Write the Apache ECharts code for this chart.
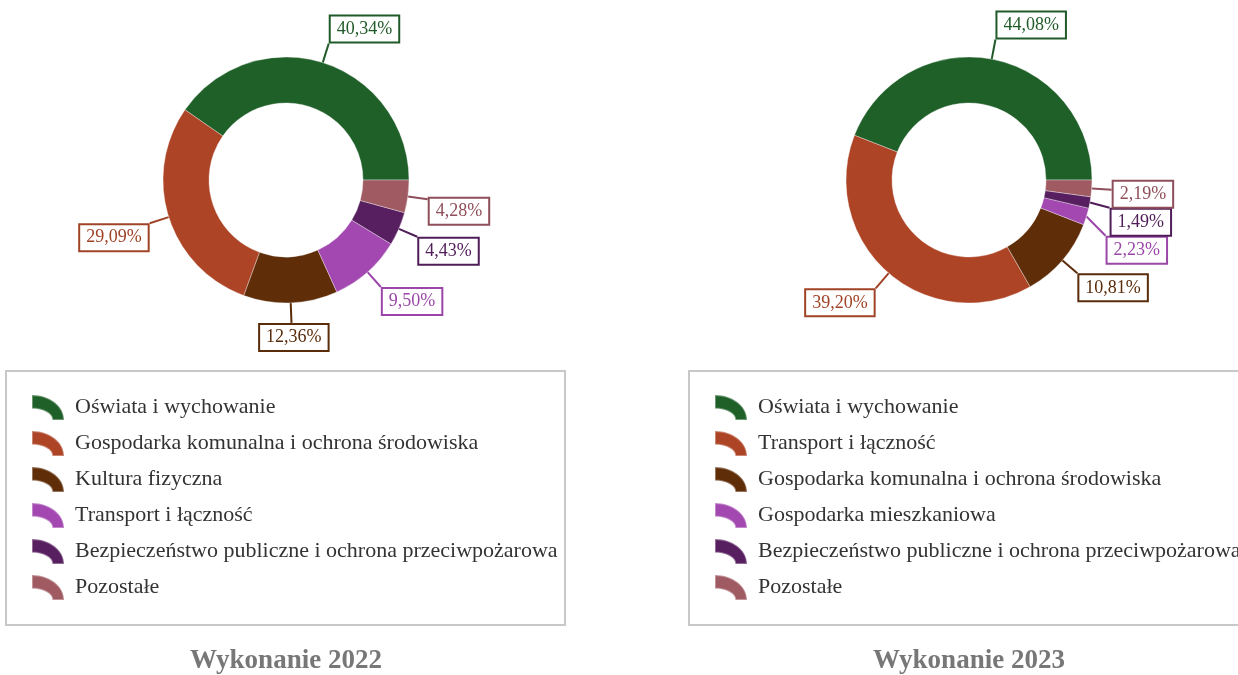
<!DOCTYPE html>
<html>
<head>
<meta charset="utf-8">
<script src="https://cdn.jsdelivr.net/npm/echarts@6/dist/echarts.min.js"></script>
<style>
  html, body { margin: 0; padding: 0; background: #fff; overflow: hidden; }
  #wrap { position: relative; width: 1238px; height: 675px; overflow: hidden; }
  .panel { position: absolute; top: 0; width: 683px; height: 675px; }
</style>
</head>
<body>
<div id="wrap">
  <div id="c2022" class="panel" style="left:0"></div>
  <div id="c2023" class="panel" style="left:683px"></div>
</div>
<script>
// Budget structure by section (% of total), two years
const categories2022 = [
  'Oświata i wychowanie',
  'Gospodarka komunalna i ochrona środowiska',
  'Kultura fizyczna',
  'Transport i łączność',
  'Bezpieczeństwo publiczne i ochrona przeciwpożarowa',
  'Pozostałe'
];
const values2022 = [40.34, 29.09, 12.36, 9.50, 4.43, 4.28];

const categories2023 = [
  'Oświata i wychowanie',
  'Transport i łączność',
  'Gospodarka komunalna i ochrona środowiska',
  'Gospodarka mieszkaniowa',
  'Bezpieczeństwo publiczne i ochrona przeciwpożarowa',
  'Pozostałe'
];
const values2023 = [44.08, 39.20, 10.81, 2.23, 1.49, 2.19];

const titles = ['Wykonanie 2022', 'Wykonanie 2023'];

// Palette, in slice order
const sliceColors = ['#1f6029', '#ad4425', '#5f2d08', '#a248b0', '#571f5f', '#a05a62'];
const labelColors = ['#1f5a28', '#a04327', '#5a2c0a', '#9a47a8', '#4f1d58', '#8e4e5a'];

const SERIF = '"Liberation Serif", "Times New Roman", serif';
const ARC_ICON = 'path://M0,0 C55.2,0 100,34.9 100,78 L64,78 C64,58.1 35.3,42 0,42 Z';

function fmt(v) {
  return v.toFixed(2).replace('.', ',') + '%';
}

function buildChart(el, cats, vals, title) {
  const chart = echarts.init(el, null, { renderer: 'canvas' });
  const boxes = {};
  let shifted = null;
  const clamp = v => Math.max(-1, Math.min(1, v));
  // near-vertical lines meet the box mid-edge, others meet a corner
  const lean = v => Math.sign(v) * clamp(Math.max(0, Math.abs(v) - 0.03) * 8);

  // Put each label box just past its leader line; the box corner facing the
  // slice sits on the line end.
  function placeLabel(p) {
    const pts = p.labelLinePoints;
    if (!pts) return {};
    const s = pts[0], e = pts[1];
    let dx = e[0] - s[0], dy = e[1] - s[1];
    const n = Math.hypot(dx, dy) || 1;
    dx /= n; dy /= n;
    const w = p.labelRect.width, h = p.labelRect.height;
    const ox = w / 2 * lean(dx), oy = h / 2 * lean(dy);
    let cx = e[0] + ox, cy = e[1] + oy;
    boxes[p.dataIndex] = { cx, cy, w, h, side: dx >= 0 ? 1 : -1 };
    if (shifted && shifted[p.dataIndex]) {
      cx = shifted[p.dataIndex].cx;
      cy = shifted[p.dataIndex].cy;
    }
    const end = [cx - ox, cy - oy];
    return {
      x: cx, y: cy, align: 'center', verticalAlign: 'middle',
      labelLinePoints: [[s[0], s[1]], end, end]
    };
  }

  // Push overlapping label boxes downwards, per side
  function resolve() {
    const out = {};
    [1, -1].forEach(side => {
      const list = Object.keys(boxes).map(k => Object.assign({ idx: +k }, boxes[k]))
        .filter(b => b.side === side)
        .sort((a, b) => a.cy - b.cy);
      const done = [];
      list.forEach(b => {
        let cy = b.cy;
        done.forEach(d => {
          const xOver = Math.abs(d.cx - b.cx) < (d.w + b.w) / 2;
          const yOver = Math.abs(d.cy - cy) < (d.h + b.h) / 2 - 1;
          if (xOver && yOver) cy = d.cy + (d.h + b.h) / 2 - 1;
        });
        const nb = { cx: b.cx, cy, w: b.w, h: b.h };
        done.push(nb);
        out[b.idx] = nb;
      });
    });
    return out;
  }

  const data = cats.map((name, i) => ({
    name,
    value: vals[i],
    itemStyle: { color: sliceColors[i] },
    label: { color: labelColors[i], borderColor: labelColors[i] },
    labelLine: { lineStyle: { color: labelColors[i] } }
  }));

  const option = {
    animation: false,
    backgroundColor: '#fff',
    legend: {
      orient: 'vertical',
      left: 26,
      top: 389,
      padding: 5,
      itemWidth: 34,
      itemHeight: 25,
      itemGap: 9,
      icon: ARC_ICON,
      selectedMode: false,
      textStyle: {
        fontFamily: SERIF, fontSize: 22, lineHeight: 25, color: '#333',
        padding: [0, 0, 0, 5]
      },
      data: cats
    },
    graphic: [
      {
        type: 'rect',
        shape: { x: 6, y: 371, width: 559, height: 254 },
        style: { fill: 'none', stroke: '#c8c8c8', lineWidth: 2 },
        z: -1
      },
      {
        type: 'text',
        x: 286, y: 661,
        style: {
          text: title, fill: '#777', fontFamily: SERIF, fontSize: 27, fontWeight: 'bold',
          align: 'center', verticalAlign: 'middle'
        }
      }
    ],
    series: [{
      type: 'pie',
      center: [286, 180],
      radius: [77, 123],
      startAngle: 0,
      clockwise: false,
      avoidLabelOverlap: false,
      itemStyle: { borderColor: 'rgba(255,255,255,0.35)', borderWidth: 1 },
      label: {
        show: true,
        position: 'outside',
        formatter: p => fmt(p.value),
        fontFamily: SERIF,
        fontSize: 18,
        lineHeight: 20,
        backgroundColor: '#fff',
        borderWidth: 2,
        padding: [3, 6, 2, 6]
      },
      labelLine: { show: true, length: 20, length2: 0, lineStyle: { width: 2 } },
      labelLayout: placeLabel,
      emphasis: { disabled: true },
      data
    }]
  };

  chart.setOption(option);
  shifted = resolve();
  chart.setOption(option, true);
  return chart;
}

buildChart(document.getElementById('c2022'), categories2022, values2022, titles[0]);
buildChart(document.getElementById('c2023'), categories2023, values2023, titles[1]);
</script>
</body>
</html>
